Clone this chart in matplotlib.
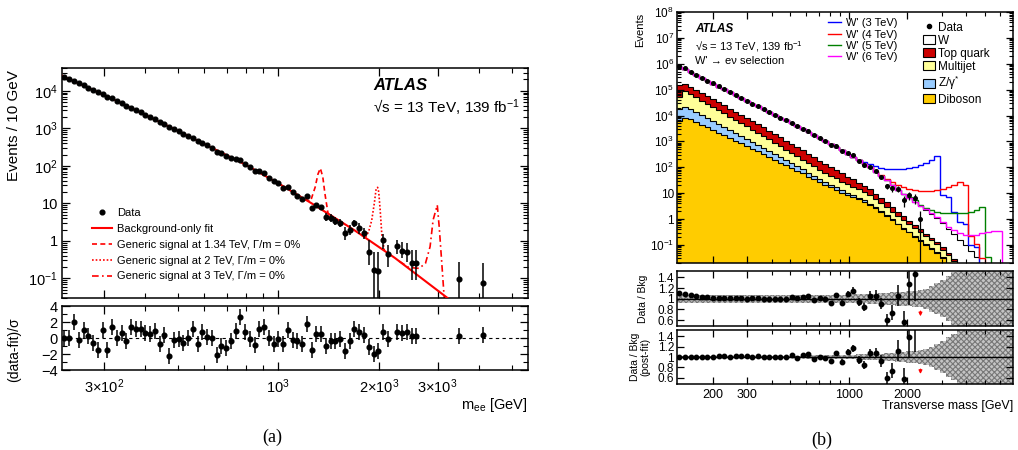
import numpy as np
import matplotlib
matplotlib.use("Agg")
import matplotlib.pyplot as plt
from matplotlib.lines import Line2D
from matplotlib.patches import Patch
from matplotlib.ticker import FixedLocator, FixedFormatter, LogLocator, NullFormatter

plt.rcParams["font.family"] = ["Liberation Sans", "DejaVu Sans"]
plt.rcParams["mathtext.fontset"] = "custom"
plt.rcParams["mathtext.rm"] = "Liberation Sans"
plt.rcParams["mathtext.it"] = "Liberation Sans:italic"
plt.rcParams["mathtext.bf"] = "Liberation Sans:bold"
plt.rcParams["axes.linewidth"] = 1.1
plt.rcParams["hatch.linewidth"] = 0.8

# ---------------- panel (a): dielectron mass spectrum ----------------
mass_a = [228.9, 236.5, 244.4, 252.6, 261.0, 269.7, 278.7, 288.0, 297.6, 307.5,
          317.8, 328.4, 339.3, 350.6, 362.3, 374.4, 386.9, 399.8, 413.1, 426.9,
          441.1, 455.8, 471.0, 486.7, 502.9, 519.7, 537.0, 554.9, 573.4, 592.5,
          612.3, 632.7, 653.8, 675.6, 698.1, 721.4, 745.4, 770.3, 795.9, 822.5,
          849.9, 878.2, 907.5, 937.7, 969.0, 1001.3, 1034.7, 1069.2, 1104.8, 1141.6,
          1179.7, 1219.0, 1259.6, 1301.6, 1345.0, 1389.8, 1436.1, 1484.0, 1533.5, 1584.6,
          1637.4, 1692.0, 1748.4, 1806.7, 1866.9, 1929.1, 1993.4, 2059.9, 2128.5,
          2272.8, 2348.6, 2426.9, 2507.8, 2591.4, 3482, 4100]
events_a = [23400, 20500, 18200, 15700, 13900, 12100, 10500, 9080, 8170, 6930,
            6300, 5360, 4690, 4000, 3570, 3080, 2670, 2300, 2000, 1740,
            1460, 1300, 1057, 964, 836, 713, 627, 562, 456, 415,
            351, 302, 240, 216, 185, 165, 152, 145, 113, 91.8,
            74.3, 72.8, 63.2, 48.6, 38.6, 33.9, 25.1, 26.7, 19.6, 15.7,
            12.7, 15.7, 7.36, 9.02, 7.82, 4.40, 4.13, 3.44, 3.04, 1.58,
            1.94, 2.93, 2.15, 1.58, 0.51, 0.166, 0.159, 1.05, 0.46,
            0.72, 0.55, 0.51, 0.25, 0.25, 0.094, 0.076]
resid_a = [0, 0, 1.96, -0.3, 1.0, 0.2, -0.65, -1.5, 1.0, -1.5,
           1.4, 0, 0.65, -0.43, 1.43, 1.1, 1.1, 0.65, 0.52, 0.87,
           -0.74, 0.43, -2.26, -0.22, -0.1, -0.57, 0, 1.17, -0.74, 0.78,
           0.13, 0, -2.1, -1.0, -1.2, -0.43, 0.87, 2.6, 0.74, -0.1,
           -0.87, 1.17, 1.39, 0, -0.78, -0.1, -0.78, 1.0, -0.22, -0.35,
           -0.78, 1.74, -1.52, 0.52, 0.52, -1.0, -0.35, -0.35, -0.1, -1.6,
           -0.43, 1.09, 0.74, 0.35, -1.17, -2.0, -1.6, 0.78, -0.1,
           0.78, 0.65, 0.78, 0.2, 0.2, 0.3, 0.35]
# error-bar ends for the high-mass tail (points 55 onwards)
tail_start = 55
tail_hi = [5.4, 5.1, 4.3, 3.9, 2.38, 2.7, 3.6, 3.0, 2.2, 1.05, 0.52, 0.52, 1.5, 0.77,
           1.05, 0.95, 0.9, 0.57, 0.57, 0.28, 0.25]
tail_lo = [3.4, 3.2, 2.6, 2.3, 1.05, 1.4, 2.38, 1.5, 1.1, 0.226, 0.005, 0.005, 0.62, 0.2,
           0.46, 0.36, 0.27, 0.09, 0.09, 0.005, 0.004]

fit_mass = [225, 316, 501, 794, 1000, 1259, 1687, 2239, 3199, 3400]
fit_events = [25100, 6310, 851, 110, 34.3, 10.0, 1.95, 0.347, 0.031, 0.0195]

sig134_mass = [1200, 1250, 1290, 1315, 1337, 1360, 1380, 1410, 1450]
sig134_events = [12.9, 11.5, 27, 60, 86, 50, 18, 5.3, 4.56]
sig2_mass = [1780, 1830, 1865, 1905, 1940, 1965, 1985, 2000, 2020, 2045, 2080]
sig2_events = [1.40, 1.30, 1.75, 3.5, 10, 25, 26.7, 20, 6.6, 1.3, 0.55]
sig3_mass = [2300, 2460, 2550, 2640, 2760, 2850, 2910, 2995, 3035, 3085, 3135, 3175]
sig3_events = [0.29, 0.196, 0.19, 0.185, 0.25, 0.70, 3.6, 9.0, 2.38, 0.31, 0.04, 0.015]

# ---------------- panel (b): transverse mass, stacked backgrounds ----------------
edges_b = [130, 138.9, 148.5, 158.6, 169.5, 181.1, 193.6, 206.8, 221.0, 236.2,
           252.6, 269.9, 288.4, 308.2, 329.4, 352.0, 376.2, 402.0, 429.6, 459.1,
           490.8, 524.5, 560.5, 599.0, 640.1, 684.0, 731.0, 781.2, 834.8, 892.1,
           953.8, 1019, 1089, 1164, 1244, 1329, 1421, 1518, 1622, 1734,
           1853, 1980, 2116, 2261, 2417, 2583, 2760, 2950, 3152, 3369,
           3601, 3848, 4112, 4395, 4696, 5019, 5363, 5731, 6125, 6545, 7000]
# log10 of cumulative stack heights per bin
w_top = [5.88, 5.78, 5.67, 5.56, 5.45, 5.34, 5.23, 5.12, 5.01, 4.90,
         4.79, 4.68, 4.57, 4.46, 4.35, 4.25, 4.14, 4.03, 3.92, 3.81,
         3.70, 3.59, 3.48, 3.37, 3.25, 3.13, 3.01, 2.90, 2.78, 2.65,
         2.52, 2.40, 2.27, 2.14, 2.00, 1.83, 1.66, 1.49, 1.32, 1.14,
         0.97, 0.81, 0.65, 0.49, 0.34, 0.19, 0.03, -0.17, -0.38, -0.59,
         -0.80, -1.02, -1.25, -1.48, -1.72, -1.96, -2.20, -2.45, -2.70, -2.95]
topquark_top = [5.16, 5.22, 5.12, 5.00, 4.88, 4.76, 4.64, 4.52, 4.40, 4.27,
                4.15, 4.03, 3.91, 3.78, 3.66, 3.54, 3.42, 3.29, 3.16, 3.03,
                2.90, 2.78, 2.65, 2.52, 2.39, 2.26, 2.13, 2.02, 1.90, 1.77,
                1.64, 1.53, 1.41, 1.28, 1.15, 0.98, 0.81, 0.64, 0.47, 0.29,
                0.11, -0.06, -0.23, -0.40, -0.56, -0.72, -0.89, -1.10, -1.32, -1.54,
                -1.76, -1.98, -2.21, -2.44, -2.68, -2.92, -3.16, -3.41, -3.66, -3.91]
multijet_top = [4.71, 4.94, 4.83, 4.70, 4.58, 4.45, 4.32, 4.20, 4.08, 3.94,
                3.82, 3.70, 3.58, 3.44, 3.32, 3.20, 3.08, 2.94, 2.81, 2.68,
                2.55, 2.43, 2.30, 2.16, 2.03, 1.90, 1.78, 1.68, 1.57, 1.45,
                1.34, 1.25, 1.15, 1.04, 0.92, 0.76, 0.61, 0.45, 0.29, 0.12,
                -0.04, -0.20, -0.36, -0.52, -0.67, -0.82, -0.98, -1.18, -1.40, -1.61,
                -1.83, -2.05, -2.28, -2.51, -2.75, -2.99, -3.23, -3.48, -3.73, -3.98]
zgamma_top = [4.25, 4.34, 4.25, 4.13, 4.02, 3.90, 3.78, 3.67, 3.56, 3.43,
              3.32, 3.21, 3.10, 2.97, 2.86, 2.75, 2.64, 2.51, 2.39, 2.27,
              2.15, 2.04, 1.92, 1.79, 1.67, 1.55, 1.43, 1.33, 1.22, 1.11,
              1.00, 0.92, 0.82, 0.72, 0.60, 0.45, 0.30, 0.15, -0.01, -0.18,
              -0.34, -0.50, -0.66, -0.82, -0.97, -1.12, -1.28, -1.48, -1.70, -1.91,
              -2.13, -2.35, -2.58, -2.81, -3.05, -3.29, -3.53, -3.78, -4.03, -4.28]
diboson_top = [3.80, 3.92, 3.85, 3.74, 3.65, 3.54, 3.44, 3.34, 3.25, 3.13,
               3.03, 2.93, 2.83, 2.71, 2.61, 2.51, 2.41, 2.29, 2.18, 2.07,
               1.97, 1.87, 1.76, 1.64, 1.53, 1.42, 1.31, 1.22, 1.12, 1.02,
               0.92, 0.85, 0.76, 0.67, 0.55, 0.41, 0.27, 0.12, -0.04, -0.21,
               -0.37, -0.52, -0.68, -0.84, -0.99, -1.14, -1.30, -1.50, -1.72, -1.93,
               -2.15, -2.37, -2.60, -2.83, -3.07, -3.31, -3.55, -3.80, -4.05, -4.30]
# signal + background (log10), from the bin where they leave the total
wprime3_start = 32
wprime3_tail = [2.30, 2.20, 2.11, 2.04, 1.99, 1.95, 1.93, 1.93, 1.94, 1.97, 2.02, 2.08, 2.17, 2.28,
                2.45, 0.91, 0.85, 0.27, -0.12, -0.2, -1.0, -1.1, -1.8, -2.2, -2.5, -2.7, -2.9, -3.1]
wprime4_start = 35
wprime4_tail = [1.85, 1.70, 1.55, 1.42, 1.31, 1.22, 1.16, 1.12, 1.10, 1.09, 1.10, 1.12, 1.17, 1.24,
                1.32, 1.45, 1.30, -0.64, -0.95, -1.5, -1.9, -2.3, -2.6, -2.9, -3.1]
wprime5_start = 41
wprime5_tail = [0.85, 0.72, 0.56, 0.44, 0.35, 0.29, 0.25, 0.23, 0.22, 0.22, 0.24, 0.28, 0.36, 0.46,
                -1.45, -1.9, -2.4, -2.8, -3.1]
wprime6_start = 44
wprime6_tail = [0.40, 0.24, 0.06, -0.12, -0.30, -0.44, -0.55, -0.60, -0.62, -0.60, -0.55, -0.50,
                -0.48, -0.48, -2.2, -2.6]
data_b_log10 = [5.925, 5.817, 5.699, 5.581, 5.463, 5.351, 5.239, 5.129, 5.019, 4.904,
                4.793, 4.689, 4.566, 4.463, 4.353, 4.25, 4.14, 4.03, 3.92, 3.81,
                3.713, 3.593, 3.497, 3.395, 3.241, 3.133, 3.006, 2.868, 2.811, 2.618,
                2.557, 2.461, 2.243, 2.069, 2.025, 1.855, 1.619, 1.268, 1.189, 1.165,
                0.718, 0.917, 0.814, 0.0]
ratio_prefit = [1.11, 1.09, 1.07, 1.05, 1.03, 1.025, 1.02, 1.02, 1.02, 1.01,
                1.006, 1.02, 0.99, 1.006, 1.006, 1.0, 1.0, 1.0, 1.0, 1.0,
                1.03, 1.006, 1.04, 1.06, 0.98, 1.006, 0.99, 0.93, 1.075, 0.93,
                1.09, 1.15, 0.94, 0.85, 1.06, 1.06, 0.91, 0.60, 0.74, 1.06,
                0.56, 1.28, 1.46]
ratio_postfit = [1.0, 1.0, 1.0, 1.0, 0.995, 1.0, 1.005, 1.01, 1.015, 1.0,
                 1.01, 1.01, 1.015, 0.995, 1.01, 1.0, 1.0, 1.0, 1.0, 1.0,
                 1.04, 0.99, 1.03, 1.055, 0.96, 1.0, 0.98, 0.92, 1.07, 0.91,
                 1.10, 1.17, 0.94, 0.85, 1.07, 1.08, 0.92, 0.60, 0.74, 1.125,
                 0.57, 1.38, 1.6]
ratio_err = [0.002, 0.002, 0.003, 0.003, 0.004, 0.004, 0.005, 0.005, 0.006, 0.007,
             0.007, 0.008, 0.009, 0.010, 0.011, 0.012, 0.013, 0.014, 0.016, 0.018,
             0.014, 0.016, 0.018, 0.021, 0.023, 0.027, 0.031, 0.035, 0.041, 0.048,
             0.06, 0.07, 0.07, 0.08, 0.09, 0.10, 0.11, 0.11, 0.14, 0.20,
             0.22, 0.40, 0.50]
arrow_bins = [43]
unc_prefit = [0.08, 0.08, 0.075, 0.075, 0.07, 0.07, 0.07, 0.07, 0.07, 0.07,
              0.07, 0.07, 0.07, 0.07, 0.07, 0.07, 0.07, 0.07, 0.07, 0.07,
              0.07, 0.07, 0.07, 0.07, 0.07, 0.07, 0.07, 0.07, 0.07, 0.075,
              0.075, 0.08, 0.08, 0.085, 0.09, 0.095, 0.10, 0.11, 0.12, 0.13,
              0.135, 0.14, 0.15, 0.16, 0.19, 0.24, 0.29, 0.35, 0.42, 0.50,
              0.6, 0.6, 0.6, 0.6, 0.6, 0.6, 0.6, 0.6, 0.6, 0.6]
unc_postfit = [0.02, 0.02, 0.02, 0.02, 0.02, 0.02, 0.02, 0.02, 0.02, 0.02,
               0.02, 0.02, 0.02, 0.02, 0.02, 0.02, 0.02, 0.02, 0.02, 0.02,
               0.025, 0.025, 0.025, 0.03, 0.03, 0.03, 0.035, 0.035, 0.04, 0.04,
               0.045, 0.045, 0.05, 0.05, 0.055, 0.055, 0.06, 0.07, 0.08, 0.09,
               0.10, 0.11, 0.12, 0.13, 0.16, 0.20, 0.25, 0.31, 0.38, 0.45,
               0.55, 0.6, 0.6, 0.6, 0.6, 0.6, 0.6, 0.6, 0.6, 0.6]

W, H = 1018, 450


def box(x0, y0, x1, y1):
    # pixel box with top-left origin -> figure-fraction rect
    return [x0 / W, 1 - y1 / H, (x1 - x0) / W, (y1 - y0) / H]


def ftext(x, y, s, **kw):
    return fig.text(x / W, 1 - y / H, s, **kw)


def root_ticks(ax, major=6, minor=3.5):
    ax.tick_params(which="both", direction="in", top=True, right=True)
    ax.tick_params(which="major", length=major, width=0.9)
    ax.tick_params(which="minor", length=minor, width=0.8)


fig = plt.figure(figsize=(W / 100, H / 100), dpi=100)

# ---- (a) main ----
xlim_a = (225, 5600)
ax_a = fig.add_axes(box(62, 68, 528, 298))
ax_a.set_xscale("log")
ax_a.set_yscale("log")
ax_a.set_xlim(*xlim_a)
ax_a.set_ylim(0.03, 4.05e4)

ax_a.plot(fit_mass, fit_events, color="red", lw=1.5, zorder=3)
ax_a.plot(sig134_mass, sig134_events, color="red", lw=1.2, ls=(0, (3, 2)), zorder=2)
ax_a.plot(sig2_mass, sig2_events, color="red", lw=1.2, ls=(0, (1, 1.2)), zorder=2)
ax_a.plot(sig3_mass, sig3_events, color="red", lw=1.2, ls=(0, (4, 2, 1, 2)), zorder=2)

m_a = np.array(mass_a)
n_a = np.array(events_a)
lo_a = n_a.copy()
hi_a = n_a.copy()
lo_a[tail_start:] = tail_lo
hi_a[tail_start:] = tail_hi
ax_a.errorbar(m_a, n_a, yerr=[n_a - lo_a, hi_a - n_a], fmt="o", ms=3.4, color="black",
              ecolor="black", elinewidth=1.1, capsize=0, zorder=4)

ax_a.xaxis.set_major_locator(FixedLocator([300, 1000, 2000, 3000]))
ax_a.xaxis.set_minor_locator(FixedLocator([400, 500, 600, 700, 800, 900, 4000, 5000]))
ax_a.xaxis.set_major_formatter(NullFormatter())
ax_a.xaxis.set_minor_formatter(NullFormatter())
ax_a.yaxis.set_major_locator(FixedLocator([0.1, 1, 10, 100, 1e3, 1e4]))
ax_a.yaxis.set_major_formatter(FixedFormatter(["$10^{-1}$", "1", "10", "$10^{2}$", "$10^{3}$", "$10^{4}$"]))
ax_a.yaxis.set_minor_locator(LogLocator(base=10, subs=np.arange(2, 10)))
ax_a.yaxis.set_minor_formatter(NullFormatter())
root_ticks(ax_a)
ax_a.tick_params(axis="y", labelsize=10.5, pad=3)

leg_a = [Line2D([], [], ls="none", marker="o", ms=3.4, color="black"),
         Line2D([], [], color="red", lw=1.5),
         Line2D([], [], color="red", lw=1.2, ls=(0, (3, 2))),
         Line2D([], [], color="red", lw=1.2, ls=(0, (1, 1.2))),
         Line2D([], [], color="red", lw=1.2, ls=(0, (4, 2, 1, 2)))]
lab_a = ["Data", "Background-only fit",
         "Generic signal at 1.34 TeV, \u0393/m = 0%",
         "Generic signal at 2 TeV, \u0393/m = 0%",
         "Generic signal at 3 TeV, \u0393/m = 0%"]
ax_a.legend(leg_a, lab_a, loc="upper left", bbox_to_anchor=(0.064, 0.39), frameon=False,
            fontsize=8, handlelength=1.8, handletextpad=0.45, labelspacing=0.52,
            borderpad=0, borderaxespad=0)

# ---- (a) residuals ----
ax_ar = fig.add_axes(box(62, 306, 528, 370))
ax_ar.set_xscale("log")
ax_ar.set_xlim(*xlim_a)
ax_ar.set_ylim(-4, 4)
ax_ar.axhline(0, color="black", lw=0.8, ls=(0, (3, 3)))
ax_ar.errorbar(m_a, resid_a, yerr=1.0, fmt="o", ms=3.4, color="black", ecolor="black",
               elinewidth=1.1, capsize=0)
ax_ar.xaxis.set_major_locator(FixedLocator([300, 1000, 2000, 3000]))
ax_ar.xaxis.set_major_formatter(FixedFormatter(["$3{\\times}10^{2}$", "$10^{3}$",
                                                "$2{\\times}10^{3}$", "$3{\\times}10^{3}$"]))
ax_ar.xaxis.set_minor_locator(FixedLocator([400, 500, 600, 700, 800, 900, 4000, 5000]))
ax_ar.xaxis.set_minor_formatter(NullFormatter())
ax_ar.set_yticks([-4, -2, 0, 2, 4])
ax_ar.yaxis.set_minor_locator(FixedLocator([-3, -1, 1, 3]))
root_ticks(ax_ar)
ax_ar.tick_params(axis="x", labelsize=10.5, pad=5)
ax_ar.tick_params(axis="y", labelsize=10.5, pad=3)

ftext(14, 70, "Events / 10 GeV", rotation=90, ha="center", va="top", fontsize=11)
ftext(14, 350, "(data-fit)/\u03c3", rotation=90, ha="center", va="center", fontsize=10)
ftext(373, 86, "ATLAS", fontsize=12, fontweight="bold", fontstyle="italic", va="center")
ftext(373, 108, "\u221as = 13 TeV, 139 fb$^{-1}$", fontsize=11, va="center")
ftext(528, 405, "m$_{\\mathregular{ee}}$ [GeV]", fontsize=10.5, ha="right", va="center")
ftext(272, 437, "(a)", fontsize=13, family="Liberation Serif", ha="center", va="center")

# ---- (b) main ----
xlim_b = (130, 7000)
edges = np.array(edges_b)
centers = np.sqrt(edges[:-1] * edges[1:])
ax_b = fig.add_axes(box(676.7, 12, 1013, 263))
ax_b.set_xscale("log")
ax_b.set_yscale("log")
ax_b.set_xlim(*xlim_b)
ax_b.set_ylim(0.02, 1e8)

layers = [(w_top, "white", "W"), (topquark_top, "#cc0000", "Top quark"),
          (multijet_top, "#ffff99", "Multijet"), (zgamma_top, "#99ccff", "Z/\u03b3$^{*}$"),
          (diboson_top, "#ffcc00", "Diboson")]
for vals, col, _ in layers:
    h = 10 ** np.array(vals)
    ax_b.stairs(h, edges, baseline=1e-6, fill=True, facecolor=col, edgecolor="none")
    ax_b.stairs(h, edges, baseline=None, color="black", lw=0.8)

total = np.array(w_top)
signals = [(wprime3_start, wprime3_tail, "#0000ff", "W' (3 TeV)"),
           (wprime4_start, wprime4_tail, "#ff0000", "W' (4 TeV)"),
           (wprime5_start, wprime5_tail, "#008000", "W' (5 TeV)"),
           (wprime6_start, wprime6_tail, "#ff00ff", "W' (6 TeV)")]
for start, tail, col, _ in signals:
    vals = np.concatenate([total[:start], tail])
    ax_b.stairs(10 ** vals, edges, baseline=None, color=col, lw=1.0)

n_b = 10 ** np.array(data_b_log10)
x_b = centers[:len(n_b)]
e_b = np.sqrt(n_b)
ax_b.errorbar(x_b, n_b, yerr=[np.minimum(e_b, 0.999 * n_b), e_b], fmt="o", ms=2.6,
              color="black", ecolor="black", elinewidth=0.9, capsize=0, zorder=5)

ax_b.xaxis.set_major_locator(FixedLocator([200, 300, 1000, 2000]))
ax_b.xaxis.set_minor_locator(FixedLocator([400, 500, 600, 700, 800, 900, 3000, 4000, 5000, 6000]))
ax_b.xaxis.set_major_formatter(NullFormatter())
ax_b.xaxis.set_minor_formatter(NullFormatter())
ax_b.yaxis.set_major_locator(FixedLocator([10.0 ** p for p in range(-1, 9)]))
ax_b.yaxis.set_major_formatter(FixedFormatter(["$10^{-1}$", "1", "10"] +
                                              ["$10^{%d}$" % p for p in range(2, 9)]))
ax_b.yaxis.set_minor_locator(LogLocator(base=10, subs=np.arange(2, 10), numticks=20))
ax_b.yaxis.set_minor_formatter(NullFormatter())
root_ticks(ax_b, major=5, minor=3)
ax_b.tick_params(axis="y", labelsize=8.5, pad=2)

leg1 = ax_b.legend([Line2D([], [], color=c, lw=1.0) for _, _, c, _ in signals],
                   [lab for _, _, _, lab in signals], loc="upper left",
                   bbox_to_anchor=(0.45, 0.975), frameon=False, fontsize=8,
                   handlelength=1.2, handletextpad=0.4, labelspacing=0.12,
                   borderpad=0, borderaxespad=0)
ax_b.add_artist(leg1)
h2 = [Line2D([], [], ls="none", marker="o", ms=3, color="black")]
h2 += [Patch(facecolor=col, edgecolor="black", lw=0.8) for _, col, _ in layers]
l2 = ["Data"] + [lab for _, _, lab in layers]
ax_b.legend(h2, l2, loc="upper left", bbox_to_anchor=(0.7315, 0.962), frameon=False,
            fontsize=8.5, handlelength=1.0, handleheight=0.8, handletextpad=0.3,
            labelspacing=0.1, borderpad=0, borderaxespad=0)

ftext(695, 29, "ATLAS", fontsize=8.5, fontweight="bold", fontstyle="italic", va="center")
ftext(695, 47, "\u221as = 13 TeV, 139 fb$^{-1}$", fontsize=8, va="center")
ftext(695, 61, "W' \u2192 e\u03bd selection", fontsize=8, va="center")
ftext(640, 13, "Events", rotation=90, ha="center", va="top", fontsize=8)

# ---- (b) ratio panels ----
ratio_panels = [((676.7, 271, 1013, 326), ratio_prefit, unc_prefit, "Data / Bkg", 643),
                ((676.7, 330, 1013, 383.5), ratio_postfit, unc_postfit, "Data / Bkg\n(post-fit)", 640)]
for rect, ratio, unc, ylab, xlab in ratio_panels:
    ax = fig.add_axes(box(*rect))
    ax.set_xscale("log")
    ax.set_xlim(*xlim_b)
    ax.set_ylim(0.49, 1.52)
    u = np.array(unc)
    ax.stairs(1 + u, edges, baseline=1 - u, fill=True, facecolor="#c4c4c4",
              edgecolor="#777777", hatch="xxxxxx", lw=0)
    ax.axhline(1, color="black", lw=1.0)
    ax.errorbar(centers[:len(ratio)], ratio, yerr=ratio_err, fmt="o", ms=3.2, color="black",
                ecolor="black", elinewidth=1.1, capsize=0, zorder=5)
    for b in arrow_bins:
        ax.annotate("", xy=(centers[b], 0.62), xytext=(centers[b], 0.82),
                    arrowprops=dict(arrowstyle="-|>", color="red", lw=0.9, mutation_scale=5))
    ax.xaxis.set_major_locator(FixedLocator([200, 300, 1000, 2000]))
    ax.xaxis.set_minor_locator(FixedLocator([400, 500, 600, 700, 800, 900, 3000, 4000, 5000, 6000]))
    ax.xaxis.set_minor_formatter(NullFormatter())
    ax.set_yticks([0.6, 0.8, 1.0, 1.2, 1.4])
    ax.set_yticklabels(["0.6", "0.8", "1", "1.2", "1.4"])
    root_ticks(ax, major=5, minor=3)
    ax.tick_params(axis="y", labelsize=8.5, pad=2)
    ax.tick_params(axis="x", labelsize=9, pad=4)
    if ylab.endswith("Bkg"):
        ax.xaxis.set_major_formatter(NullFormatter())
    else:
        ax.xaxis.set_major_formatter(FixedFormatter(["200", "300", "1000", "2000"]))
    ftext(xlab, (rect[1] + rect[3]) / 2, ylab, rotation=90, ha="center", va="center",
          fontsize=7.5, multialignment="center", linespacing=1.1)

ftext(1013, 406, "Transverse mass [GeV]", fontsize=9, ha="right", va="center")
ftext(822, 440, "(b)", fontsize=13, family="Liberation Serif", ha="center", va="center")

fig.savefig("out.png", dpi=100)
